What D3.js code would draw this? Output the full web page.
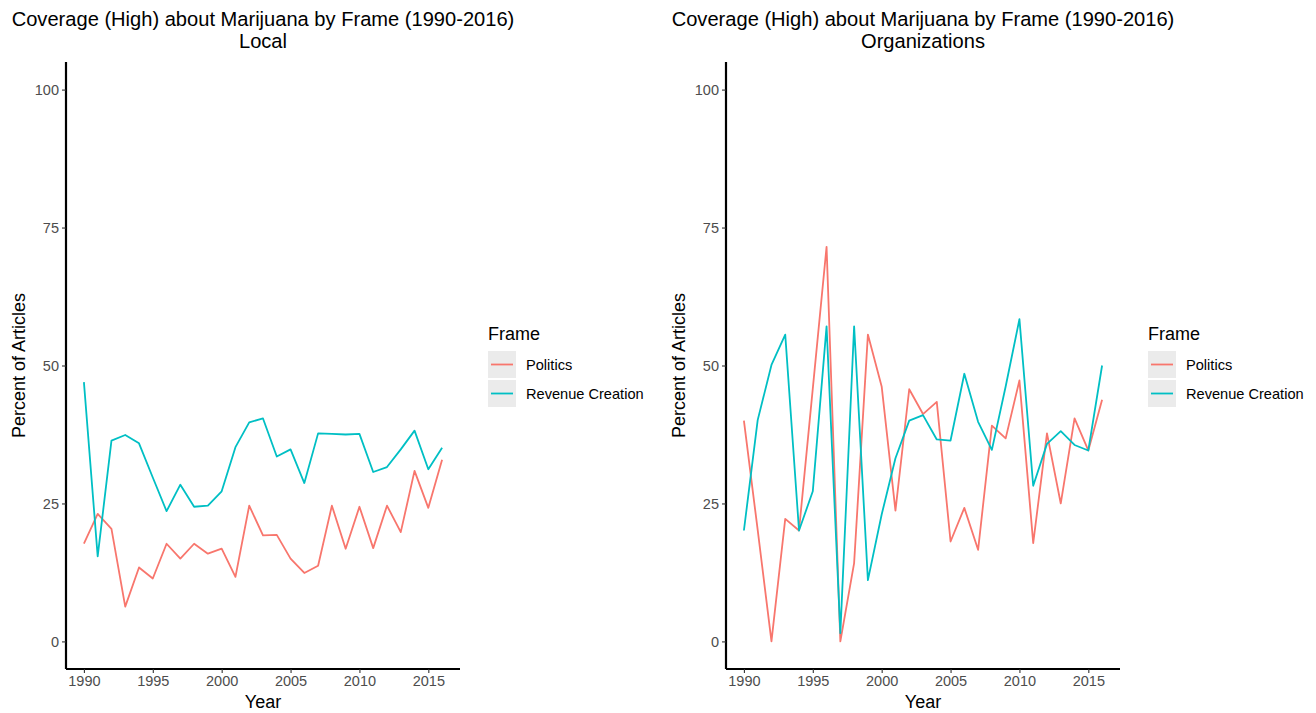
<!DOCTYPE html>
<html>
<head>
<meta charset="utf-8">
<script src="https://cdn.jsdelivr.net/npm/d3@7"></script>
<style>
  body { margin: 0; background: #fff; }
  text { font-family: "Liberation Sans", Arial, sans-serif; }
</style>
</head>
<body>
<svg id="chart" width="1316" height="713"></svg>
<script>
var years = d3.range(1990, 2017);

var localPolitics = [17.7, 23.1, 20.4, 6.3, 13.4, 11.4, 17.7, 15.0, 17.7, 15.9, 16.8, 11.7, 24.6, 19.2,
    19.3, 15.0, 12.4, 13.7, 24.6, 16.8, 24.4, 16.9, 24.6, 19.8, 30.9, 24.2, 32.9];
var localRevenue = [47.0, 15.4, 36.4, 37.4, 35.9, 29.7, 23.6, 28.4, 24.4, 24.6, 27.2, 35.2, 39.7, 40.4,
    33.5, 34.8, 28.7, 37.7, 37.6, 37.5, 37.6, 30.7, 31.6, 34.8, 38.2, 31.2, 35.1];

var orgPolitics = [40.0, 20.2, 0, 22.2, 20.1, 45.8, 71.5, 0, 14.2, 55.6, 46.2, 23.7, 45.7, 41.2,
    43.4, 18.1, 24.2, 16.6, 39.1, 36.8, 47.3, 17.8, 37.7, 25.0, 40.4, 34.6, 43.8];
var orgRevenue = [20.1, 40.1, 50.1, 55.6, 20.1, 27.2, 57.1, 1.5, 57.1, 11.1, 23.0, 33.2, 40.0, 41.0,
    36.6, 36.4, 48.5, 39.8, 34.7, 46.2, 58.4, 28.2, 35.8, 38.1, 35.6, 34.6, 50.0];

var frames = ["Politics", "Revenue Creation"];
var frameColors = ["#F8766D", "#00BFC4"];
var xTicks = [1990, 1995, 2000, 2005, 2010, 2015];
var yTicks = [0, 25, 50, 75, 100];

var panels = [
  {name: "Local", x0: 66, series: [localPolitics, localRevenue]},
  {name: "Organizations", x0: 726, series: [orgPolitics, orgRevenue]}
];

var svg = d3.select("#chart");
var color = d3.scaleOrdinal().domain(frames).range(frameColors);

panels.forEach(function(p) {
  var left = p.x0, right = p.x0 + 394, top = 62, bottom = 669;
  var x = d3.scaleLinear().domain([1990 - 1.3, 2016 + 1.3]).range([left, right]);
  var y = d3.scaleLinear().domain([-5, 105]).range([bottom, top]);
  var g = svg.append("g");

  // titles
  var cx = (left + right) / 2;
  g.append("text").attr("x", cx).attr("y", 26).attr("text-anchor", "middle")
    .attr("font-size", 20.1).text("Coverage (High) about Marijuana by Frame (1990-2016)");
  g.append("text").attr("x", cx).attr("y", 48).attr("text-anchor", "middle")
    .attr("font-size", 20.1).text(p.name);

  // axes
  var xAxis = g.append("g").attr("transform", "translate(0," + bottom + ")")
    .call(d3.axisBottom(x).tickValues(xTicks).tickFormat(d3.format("d")).tickSize(4).tickPadding(3));
  var yAxis = g.append("g").attr("transform", "translate(" + left + ",0)")
    .call(d3.axisLeft(y).tickValues(yTicks).tickSize(4).tickPadding(3));
  [xAxis, yAxis].forEach(function(a) {
    a.select(".domain").attr("stroke", "#000").attr("stroke-width", 2.2);
    a.selectAll(".tick line").attr("stroke", "#333").attr("stroke-width", 1.1);
    a.selectAll(".tick text").attr("fill", "#4d4d4d").attr("font-size", 14.5)
      .style("font-family", "Liberation Sans, Arial, sans-serif");
  });
  xAxis.select(".domain").attr("d", "M" + left + ",0H" + right);
  yAxis.select(".domain").attr("d", "M0," + top + "V" + bottom);

  g.append("text").attr("x", (left + right) / 2).attr("y", 708).attr("text-anchor", "middle")
    .attr("font-size", 18).text("Year");
  g.append("text").attr("transform", "translate(" + (left - 41) + "," + ((top + bottom) / 2) + ") rotate(-90)")
    .attr("text-anchor", "middle").attr("font-size", 18).text("Percent of Articles");

  // lines
  var line = d3.line().x(function(d, i) { return x(years[i]); }).y(function(d) { return y(d); });
  p.series.forEach(function(s, i) {
    g.append("path").datum(s).attr("fill", "none")
      .attr("stroke", color(frames[i])).attr("stroke-width", 1.8)
      .attr("stroke-linejoin", "round").attr("d", line);
  });

  // legend
  var lg = g.append("g").attr("transform", "translate(" + (right + 28) + ",0)");
  lg.append("text").attr("x", 0).attr("y", 340).attr("font-size", 18).text("Frame");
  frames.forEach(function(f, i) {
    var ky = 351 + i * 29;
    lg.append("rect").attr("x", 0).attr("y", ky).attr("width", 28).attr("height", 27).attr("fill", "#ebebeb");
    lg.append("line").attr("x1", 3).attr("x2", 25).attr("y1", ky + 13.5).attr("y2", ky + 13.5)
      .attr("stroke", color(f)).attr("stroke-width", 1.8);
    lg.append("text").attr("x", 38).attr("y", ky + 19).attr("font-size", 14.6).text(f);
  });
});
</script>
</body>
</html>
